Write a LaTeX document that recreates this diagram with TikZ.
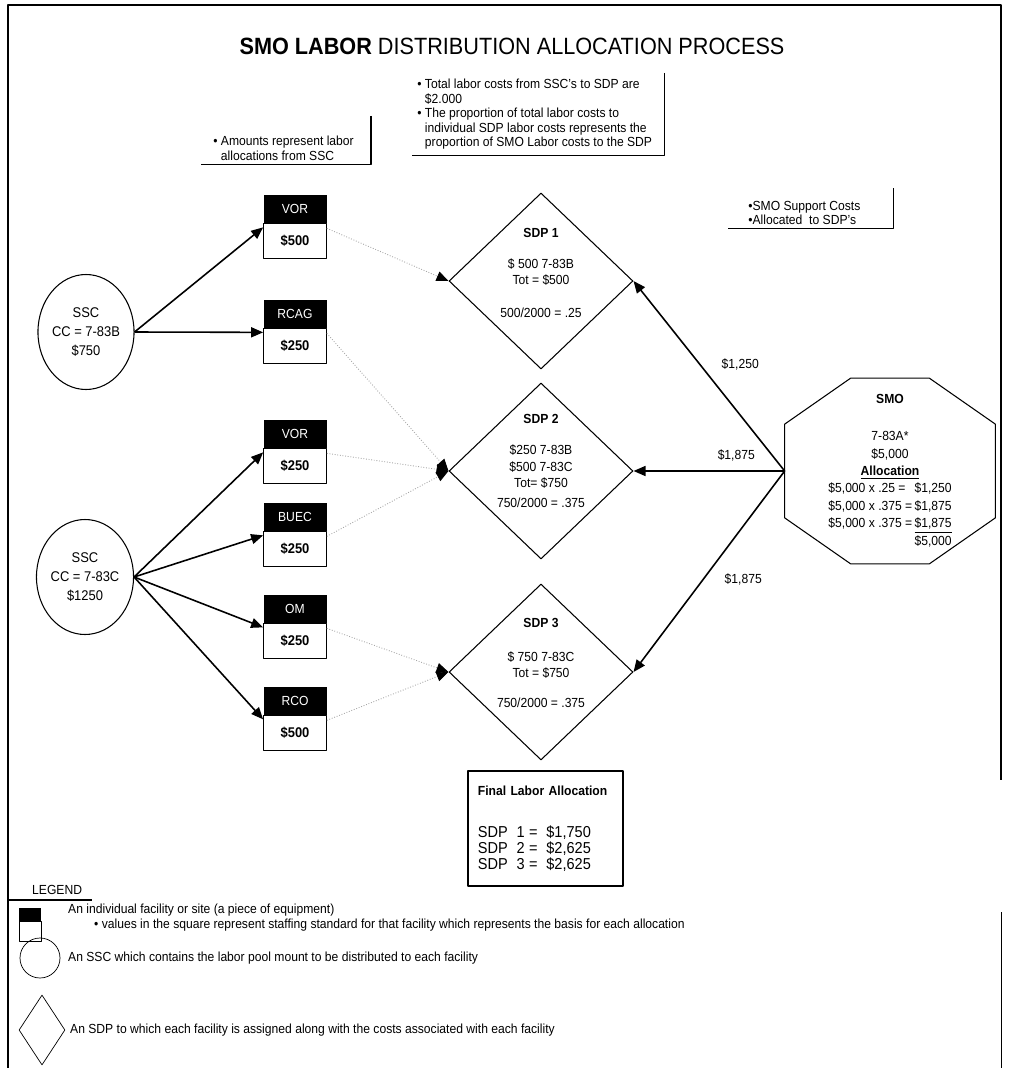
\documentclass[tikz,border=0pt]{standalone}
\usepackage{fontspec}
\setmainfont{Liberation Sans}[FakeStretch=0.92]
\usetikzlibrary{arrows.meta,positioning,shapes.geometric}

\begin{document}
\begin{tikzpicture}[x=0.2mm,y=-0.2mm,>={Triangle[length=2.4mm,width=2mm]},line join=round,
	font=\fontsize{7.5}{8.6}\selectfont,
	fachead/.style={fill=black,text=white,minimum width=12.6mm,minimum height=5.6mm,inner sep=0pt},
	facval/.style={draw,fill=white,minimum width=12.6mm,minimum height=7mm,inner sep=0pt,font=\fontsize{8}{9}\selectfont\bfseries},
	ssc/.style={ellipse,draw,line width=0.6pt,minimum width=18.4mm,minimum height=23mm,inner sep=0pt,align=center,font=\fontsize{8}{11}\selectfont},
	sdp/.style={diamond,draw,line width=0.6pt,minimum width=36.8mm,minimum height=35.2mm,inner sep=0pt},
	sdptext/.style={align=center,font=\fontsize{7.5}{9.6}\selectfont},
	feed/.style={->,line width=0.9pt},
	share/.style={-{Triangle[length=2.4mm,width=2mm,black]},densely dotted,gray!70,line width=0.5pt},
	note/.style={align=left,inner sep=0pt,font=\fontsize{7.5}{8.2}\selectfont}]
	\useasboundingbox (0,0) rectangle (1009,1068);
	% page frame
	\draw[line width=1.2pt] (8,1068) -- (8,5) -- (1001,5) -- (1001,780);
	\draw[line width=0.5pt] (1001,912) -- (1001,1068);
	
	\node (title) at (512,46) {\fontsize{13.4}{16}\selectfont\textbf{SMO LABOR} DISTRIBUTION ALLOCATION PROCESS};
	
	% notes
	\node[note,anchor=north west] (amounts) at (213,136) {• Amounts represent labor\\\phantom{• }allocations from SSC};
	\draw[line width=0.8pt] ([shift={(17,-20)}]amounts.north east) |- ([shift={(-12,4)}]amounts.south west);
	\node[note,anchor=north west] (totals) at (417,79) {• Total labor costs from SSC's to SDP are\\\phantom{• }\$2.000\\• The proportion of total labor costs to\\\phantom{• }individual SDP labor costs represents the\\\phantom{• }proportion of SMO Labor costs to the SDP};
	\draw[line width=0.8pt] ([shift={(12,-6)}]totals.north east) |- ([shift={(-5,6)}]totals.south west);
	\node[note,anchor=north west] (support) at (748,201) {•SMO Support Costs\\•Allocated\ \ to SDP's};
	\draw[line width=0.8pt] ([shift={(33,-13)}]support.north east) |- ([shift={(-20,3)}]support.south west);
	
	% SSC pools
	\node[ssc] (ssca) at (86,332) {SSC\\CC = 7-83B\\\$750};
	\node[ssc] (sscb) at (85,577) {SSC\\CC = 7-83C\\\$1250};
	
	% facilities
	\foreach \n/\lab/\val/\top in {vora/VOR/500/195,rcag/RCAG/250/300,vorb/VOR/250/420,buec/BUEC/250/503,om/OM/250/595,rco/RCO/500/687}{
		\node[fachead] (\n) at (295,\top+14) {\lab};
		\node[facval,below=0pt of \n] (\n-v) {\$\val};
	}
	
	% SDPs
	\node[sdp] (sdp1) at (541,281) {};
	\node[sdp] (sdp2) at (541,471) {};
	\node[sdp] (sdp3) at (541,672) {};
	\node[sdptext] (sdp1-t) at (541,273) {\textbf{SDP 1}\\[2.8mm]\$ 500 7-83B\\Tot = \$500\\[3.2mm]500/2000 = .25};
	\node[sdptext] (sdp2-t) at (541,461) {\textbf{SDP 2}\\[2.8mm]\$250 7-83B\\\$500 7-83C\\Tot= \$750\\[0.6mm]750/2000 = .375};
	\node[sdptext] (sdp3-t) at (541,663) {\textbf{SDP 3}\\[3.4mm]\$ 750 7-83C\\Tot = \$750\\[2.6mm]750/2000 = .375};
	
	% SMO
	\node[minimum width=42mm,minimum height=37mm,inner sep=0pt,font=\fontsize{7.5}{9.9}\selectfont] (smo) at (890,471) {%
		\begin{tabular}{@{}l@{\,}r@{}}
			\multicolumn{2}{c}{\textbf{SMO}}\\[3.9mm]
			\multicolumn{2}{c}{7-83A*}\\
			\multicolumn{2}{c}{\$5,000}\\
			\multicolumn{2}{c}{\textbf{\underline{Allocation}}}\\
			\$5,000 x .25 = & \$1,250\\
			\$5,000 x .375 = & \$1,875\\
			\$5,000 x .375 = & \underline{\$1,875}\\
			& \$5,000
	\end{tabular}};
	\draw[line width=0.6pt] ([xshift=13.2mm]smo.north west) -- ([xshift=-13.2mm]smo.north east) -- ([yshift=-9.2mm]smo.north east) -- ([yshift=9.2mm]smo.south east) -- ([xshift=-13.2mm]smo.south east) -- ([xshift=13.2mm]smo.south west) -- ([yshift=9.2mm]smo.south west) -- ([yshift=-9.2mm]smo.north west) -- cycle;
	
	% labor from SSC to facilities
	\draw[feed] (ssca.east) -- ([yshift=-0.8mm]vora-v.north west);
	\draw[feed] (ssca.east) -- ([yshift=-0.8mm]rcag-v.north west);
	\foreach \n in {vorb,buec,om,rco}
	\draw[feed] (sscb.east) -- ([yshift=-0.8mm]\n-v.north west);
	
	% facilities to SDPs
	\draw[share] ([yshift=-1mm]vora-v.north east) -- (sdp1.west);
	\foreach \n in {rcag,vorb,buec}
	\draw[share] ([yshift=-1mm]\n-v.north east) -- (sdp2.west);
	\foreach \n in {om,rco}
	\draw[share] ([yshift=-1mm]\n-v.north east) -- (sdp3.west);
	
	% SMO support costs
	\draw[feed] (smo.west) -- (sdp1.east) node[pos=0.56,right=3mm] (cost1) {\$1,250};
	\draw[feed] (smo.west) -- (sdp2.east) node[pos=0.32,above=0.6mm] (cost2) {\$1,875};
	\draw[feed] (smo.west) -- (sdp3.east) node[pos=0.54,right=3mm] (cost3) {\$1,875};
	
	\node[draw,line width=1pt,anchor=north west,minimum width=31mm,minimum height=23mm,text width=27mm,inner xsep=2mm,align=left] (final) at (467,770) {\textbf{Final Labor Allocation}\\[5mm]{\fontsize{9}{9.6}\selectfont SDP\ \ 1 =\ \ \$1,750\\SDP\ \ 2 =\ \ \$2,625\\SDP\ \ 3 =\ \ \$2,625}};
	
	% legend
	\node[anchor=west] (legend) at (26,890) {LEGEND};
	\draw[line width=0.8pt] (8,900) -- (92,900);
	\node[fill=black,minimum width=4.4mm,minimum height=2.6mm,inner sep=0pt] (keyhead) at (30,914) {};
	\node[draw,below=0pt of keyhead,minimum width=4.4mm,minimum height=4mm,inner sep=0pt] (keyval) {};
	\node[anchor=west] (keytext1) at (62,910) {An individual facility or site (a piece of equipment)};
	\node[anchor=west] (keytext2) at (88,925) {• values in the square represent staffing standard for that facility which represents the basis for each allocation};
	\node[circle,draw,minimum size=8mm,inner sep=0pt] (keycircle) at (40,958) {};
	\node[anchor=west] (keytext3) at (62,958) {An SSC which contains the labor pool mount to be distributed to each facility};
	\node[diamond,draw,minimum width=9.2mm,minimum height=14mm,inner sep=0pt] (keydiamond) at (42,1030) {};
	\node[anchor=west] (keytext4) at (64,1030) {An SDP to which each facility is assigned along with the costs associated with each facility};
\end{tikzpicture}
\end{document}
